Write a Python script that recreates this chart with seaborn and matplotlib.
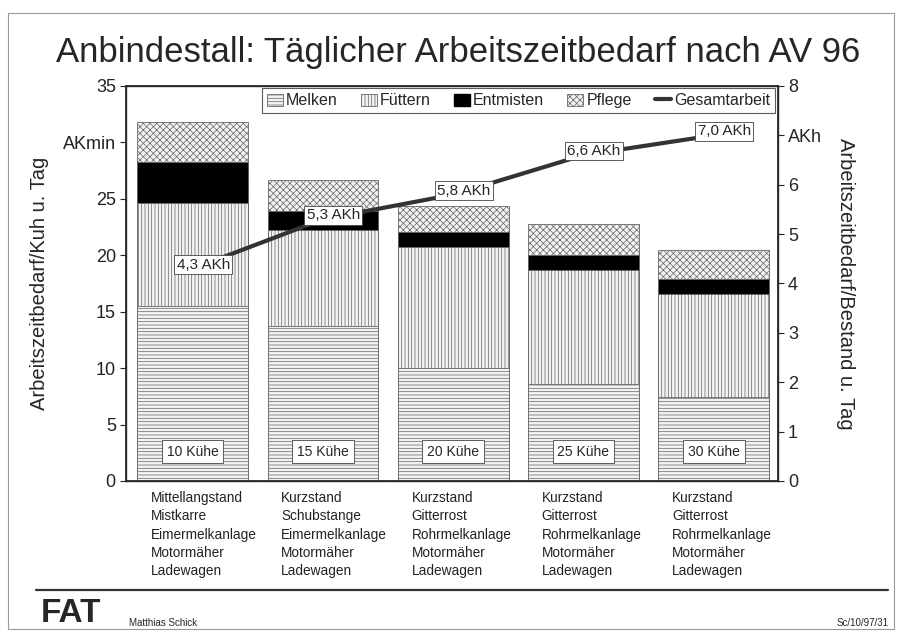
import numpy as np
import pandas as pd
import matplotlib.pyplot as plt
import seaborn as sns
from matplotlib.patches import Patch, Rectangle
from matplotlib.lines import Line2D

sns.set_theme(style="white")
plt.rcParams['font.family'] = ['Liberation Sans', 'DejaVu Sans']
plt.rcParams['hatch.linewidth'] = 0.5

# Daten
bestand = ["10 Kühe", "15 Kühe", "20 Kühe", "25 Kühe", "30 Kühe"]
melken = [15.5, 13.7, 10.0, 8.6, 7.4]
fuettern = [9.1, 8.5, 10.7, 10.1, 9.2]
entmisten = [3.7, 1.7, 1.4, 1.3, 1.3]
pflege = [3.5, 2.8, 2.3, 2.8, 2.6]
gesamt_akh = [4.3, 5.3, 5.8, 6.6, 7.0]
gesamt_labels = ["4,3 AKh", "5,3 AKh", "5,8 AKh", "6,6 AKh", "7,0 AKh"]
verfahren = [
    "Mittellangstand\nMistkarre\nEimermelkanlage\nMotormäher\nLadewagen",
    "Kurzstand\nSchubstange\nEimermelkanlage\nMotormäher\nLadewagen",
    "Kurzstand\nGitterrost\nRohrmelkanlage\nMotormäher\nLadewagen",
    "Kurzstand\nGitterrost\nRohrmelkanlage\nMotormäher\nLadewagen",
    "Kurzstand\nGitterrost\nRohrmelkanlage\nMotormäher\nLadewagen",
]

df = pd.DataFrame({"Bestand": bestand, "Melken": melken, "Füttern": fuettern,
                   "Entmisten": entmisten, "Pflege": pflege})
df["c1"] = df["Melken"]
df["c2"] = df["c1"] + df["Füttern"]
df["c3"] = df["c2"] + df["Entmisten"]
df["c4"] = df["c3"] + df["Pflege"]

fig = plt.figure(figsize=(9.02, 6.37), dpi=100)
ax = fig.add_axes([0.140, 0.245, 0.722, 0.620])

# gestapelte Balken (kumulativ von oben nach unten überlagert)
styles = [
    ("c4", "#f2f2f2", "xxxxx"),
    ("c3", "black", None),
    ("c2", "#f2f2f2", "|||||"),
    ("c1", "#f2f2f2", "-----"),
]
for col, fc, hatch in styles:
    sns.barplot(data=df, x="Bestand", y=col, ax=ax, color=fc, width=0.85,
                edgecolor="#666666", linewidth=0.6, hatch=hatch, saturation=1)

ax.set_xlim(-0.51, 4.49)
ax.set_ylim(0, 35)
ax.set_yticks(range(0, 36, 5))
ax.set_yticklabels(["0", "5", "10", "15", "20", "25", "AKmin", "35"], fontsize=13)
ax.set_xticks(range(5))
ax.set_xticklabels([""] * 5)
ax.set_xlabel("")
ax.set_ylabel("Arbeitszeitbedarf/Kuh u. Tag", fontsize=14.5, labelpad=10)
ax.tick_params(axis="both", direction="out", length=4, width=0.8, colors="#222222")
ax.tick_params(axis="y", labelsize=13)
for s in ax.spines.values():
    s.set_color("#333333")
    s.set_linewidth(1.0)

# Bestandslabels in den Balken
for i, b in enumerate(bestand):
    ax.text(i, 2.6, b, ha="center", va="center", fontsize=10, zorder=5,
            bbox=dict(boxstyle="square,pad=0.35", fc="white", ec="#444444", lw=0.6))

# Verfahren unter den Balken
for i, v in enumerate(verfahren):
    ax.text(i - 0.32, -0.025, v, ha="left", va="top", fontsize=9.8,
            linespacing=1.4, transform=ax.get_xaxis_transform(), color="#222222")

# Gesamtarbeit auf zweiter Achse
ax2 = ax.twinx()
sns.lineplot(x=list(range(5)), y=gesamt_akh, ax=ax2, color="#333333", linewidth=3)
ax2.set_ylim(0, 8)
ax2.set_xlim(-0.51, 4.49)
ax2.set_yticks(range(0, 9))
ax2.set_yticklabels(["0", "1", "2", "3", "4", "5", "6", "AKh", "8"], fontsize=13)
ax2.set_ylabel("Arbeitszeitbedarf/Bestand u. Tag", fontsize=14.5, rotation=270, labelpad=24)
ax2.tick_params(axis="y", direction="out", length=4, width=0.8, labelsize=13)
ax2.grid(False)
for i, (val, lab) in enumerate(zip(gesamt_akh, gesamt_labels)):
    ax2.text(i + 0.08, val + 0.08, lab, ha="center", va="center", fontsize=11, zorder=6,
             bbox=dict(boxstyle="square,pad=0.15", fc="white", ec="#444444", lw=0.6))

# Legende
handles = [
    Patch(facecolor="#f2f2f2", edgecolor="#666666", hatch="-----", lw=0.6, label="Melken"),
    Patch(facecolor="#f2f2f2", edgecolor="#666666", hatch="|||||", lw=0.6, label="Füttern"),
    Patch(facecolor="black", edgecolor="black", label="Entmisten"),
    Patch(facecolor="#f2f2f2", edgecolor="#666666", hatch="xxxxx", lw=0.6, label="Pflege"),
    Line2D([0], [0], color="#333333", lw=3, label="Gesamtarbeit"),
]
leg = ax2.legend(handles=handles, loc="upper right", ncol=5, fontsize=11.5,
                 handlelength=1.0, handleheight=0.8, handletextpad=0.2,
                 columnspacing=1.45, borderaxespad=0.15, frameon=True, fancybox=False,
                 borderpad=0.3)
leg.get_frame().set_edgecolor("#333333")
leg.get_frame().set_linewidth(0.8)

# Titel
fig.text(0.508, 0.918, "Anbindestall: Täglicher Arbeitszeitbedarf nach AV 96",
         ha="center", va="center", fontsize=25)

# Fußzeile
fig.add_artist(Line2D([0.04, 0.985], [0.073, 0.073], color="#333333", lw=1.6))
fig.text(0.045, 0.037, "FAT", fontsize=24, fontweight="heavy", ha="left", va="center")
fig.text(0.143, 0.022, "Matthias Schick", fontsize=7, ha="left", va="center")
fig.text(0.985, 0.022, "Sc/10/97/31", fontsize=7, ha="right", va="center")

# Rahmen
fig.add_artist(Rectangle((0.009, 0.012), 0.982, 0.968, transform=fig.transFigure,
                         fill=False, ec="#999999", lw=0.8))

plt.savefig("out.png", dpi=100)
